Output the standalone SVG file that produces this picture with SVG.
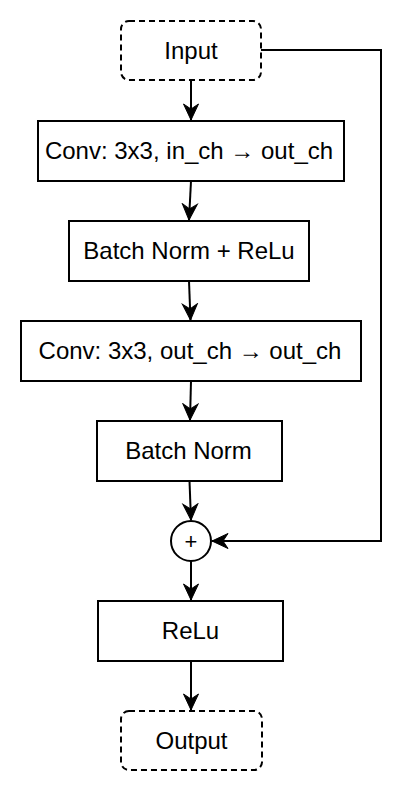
<svg xmlns="http://www.w3.org/2000/svg" width="420" height="792" viewBox="0 0 420 792">
<defs>
<style>
.box{fill:#fff;stroke:#000;stroke-width:2}
.term{fill:#fff;stroke:#000;stroke-width:2;stroke-dasharray:6 4}
.lbl{font-family:"Liberation Sans",Arial,sans-serif;font-size:24px;fill:#000;text-anchor:middle}
.edge{fill:none;stroke:#000;stroke-width:2}
</style>
<marker id="arr" markerUnits="userSpaceOnUse" markerWidth="20" markerHeight="20" viewBox="0 0 20 20" refX="17" refY="9" orient="auto">
<path d="M17,9 L1,1.5 L6,9 L1,16.5 Z" fill="#000" stroke="#000" stroke-width="1"/>
</marker>
</defs>
<rect width="420" height="792" fill="#fff"/>
<g id="connectors">
<line class="edge" x1="191" y1="80" x2="191" y2="120" marker-end="url(#arr)"/>
<line class="edge" x1="191" y1="181" x2="189" y2="220" marker-end="url(#arr)"/>
<line class="edge" x1="189" y1="281" x2="190.5" y2="320" marker-end="url(#arr)"/>
<line class="edge" x1="191" y1="381" x2="190" y2="420" marker-end="url(#arr)"/>
<line class="edge" x1="189.5" y1="481" x2="191" y2="520" marker-end="url(#arr)"/>
<line class="edge" x1="191" y1="561" x2="191" y2="600" marker-end="url(#arr)"/>
<line class="edge" x1="191" y1="661" x2="191" y2="710" marker-end="url(#arr)"/>
<polyline class="edge" points="261,50 381,50 381,541 212,541" marker-end="url(#arr)"/>
</g>
<g id="input">
<rect class="term" x="121" y="21" width="140" height="59" rx="8"/>
<text class="lbl" x="191" y="58.5">Input</text>
</g>
<g id="conv1">
<rect class="box" x="38" y="121" width="306" height="60"/>
<text class="lbl" x="189" y="159">Conv: 3x3, in_ch → out_ch</text>
</g>
<g id="bnrelu">
<rect class="box" x="69" y="221" width="240" height="60"/>
<text class="lbl" x="189" y="259">Batch Norm + ReLu</text>
</g>
<g id="conv2">
<rect class="box" x="21" y="321" width="340" height="60"/>
<text class="lbl" x="190" y="359">Conv: 3x3, out_ch → out_ch</text>
</g>
<g id="bn">
<rect class="box" x="97" y="421" width="185" height="60"/>
<text class="lbl" x="188.5" y="459">Batch Norm</text>
</g>
<g id="add">
<circle class="box" cx="191" cy="541" r="20"/>
<text x="191" y="548.5" style="font-family:'Liberation Sans',Arial,sans-serif;font-size:22px;text-anchor:middle">+</text>
</g>
<g id="relu">
<rect class="box" x="98" y="601" width="185" height="60"/>
<text class="lbl" x="190.5" y="639">ReLu</text>
</g>
<g id="output">
<rect class="term" x="121" y="711" width="141" height="59" rx="8"/>
<text class="lbl" x="191.5" y="749">Output</text>
</g>
</svg>
